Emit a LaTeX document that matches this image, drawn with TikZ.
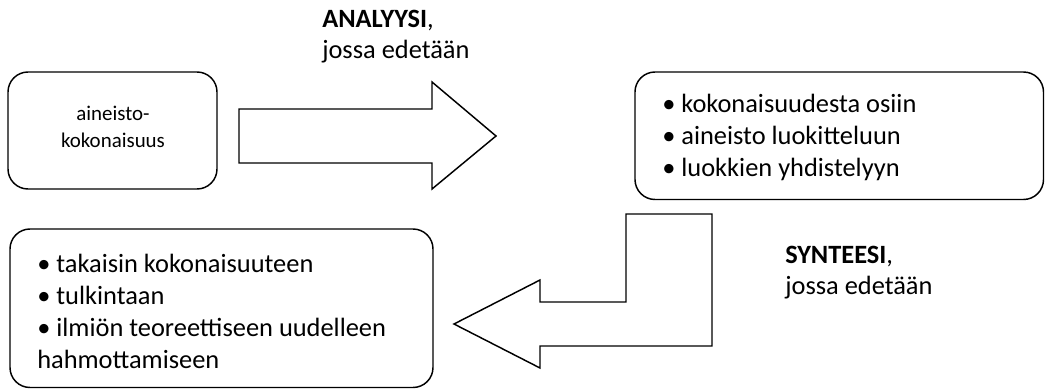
\documentclass[tikz,border=0pt]{standalone}
\usepackage{fontspec}
\setmainfont{Carlito}
\begin{document}
\begin{tikzpicture}[x=0.75pt,y=-0.75pt,
  box/.style={draw=black,line width=1.1pt,rounded corners=20*0.75pt},
  blockarrow/.style={draw=black,line width=1.1pt,line join=miter,fill=white},
  txt/.style={inner sep=0pt,font=\fontsize{19.8}{24}\selectfont},
  small/.style={inner sep=0pt,font=\fontsize{15.7}{19}\selectfont,anchor=base},
  lft/.style={txt,anchor=base west}]
\useasboundingbox (0,0) rectangle (1045,389);
% boxes
\draw[box] (8,72) rectangle (217,189);
\node[inner sep=0pt] (whole) at (112.5,130.5) {};
\draw[box] (635,72) rectangle (1043.5,199.5);
\node[inner sep=0pt] (parts) at (839,135.5) {};
\draw[box] (10,229) rectangle (433,387.5);
\node[inner sep=0pt] (synth) at (221.5,308) {};
% box texts
\node[small] (t1a) at (113,120) {aineisto-};
\node[small] (t1b) at (113,147) {kokonaisuus};
\node[lft] (t2a) at (662,112) {• kokonaisuudesta osiin};
\node[lft] (t2b) at (662,144) {• aineisto luokitteluun};
\node[lft] (t2c) at (662,176) {• luokkien yhdistelyyn};
\node[lft] (t3a) at (37,272) {• takaisin kokonaisuuteen};
\node[lft] (t3b) at (37,304) {• tulkintaan};
\node[lft] (t3c) at (37,336) {• ilmiön teoreettiseen uudelleen};
\node[lft] (t3d) at (37,368) {hahmottamiseen};
% block arrows
\draw[blockarrow] (239,109) -- (432,109) -- (432,82) -- (496,136) -- (432,189) -- (432,163) -- (239,163) -- cycle;
\draw[blockarrow] (712,214) -- (626,214) -- (626,302) -- (540,302) -- (540,280) -- (454,324) -- (540,368) -- (540,346) -- (712,346) -- cycle;
% labels
\node[lft] (la1) at (322,27) {\textbf{ANALYYSI},};
\node[lft] (la2) at (322,58) {jossa edetään};
\node[lft] (ls1) at (785,263) {\textbf{SYNTEESI},};
\node[lft] (ls2) at (785,294) {jossa edetään};
\end{tikzpicture}
\end{document}
